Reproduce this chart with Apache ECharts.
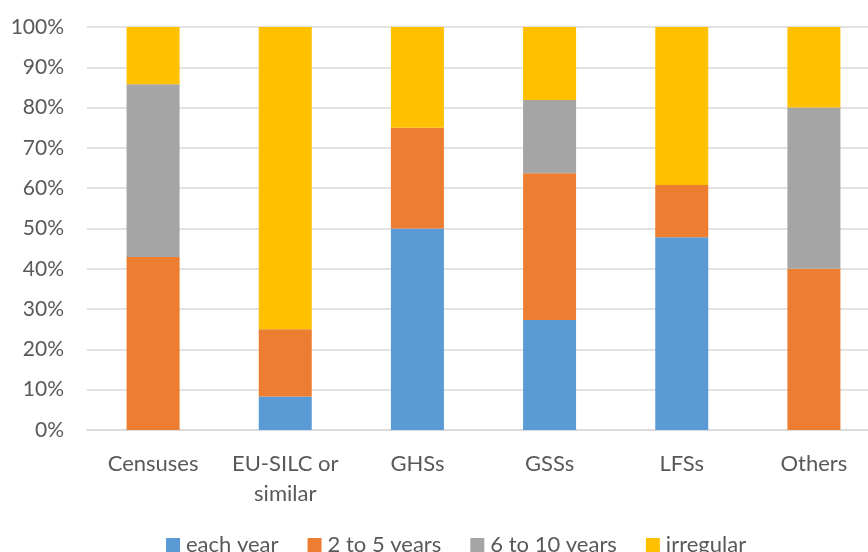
<!DOCTYPE html>
<html>
<head>
<meta charset="utf-8">
<script src="https://cdn.jsdelivr.net/npm/echarts@6/dist/echarts.min.js"></script>
<style>
  html, body { margin: 0; padding: 0; background: #fff; }
  #main { width: 868px; height: 552px; }
</style>
</head>
<body>
<div id="main"></div>
<script>
  const categories = ['Censuses', 'EU-SILC or\nsimilar', 'GHSs', 'GSSs', 'LFSs', 'Others'];
  const eachYear = [0, 8.3, 50, 27.3, 47.8, 0];
  const twoToFive = [42.9, 16.7, 25, 36.4, 13.0, 40];
  const sixToTen = [42.9, 0, 0, 18.2, 0, 40];
  const irregular = [14.3, 75, 25, 18.1, 39.2, 20];
  const yTicks = [0, 10, 20, 30, 40, 50, 60, 70, 80, 90, 100];

  const font = 'Lato, "Open Sans", sans-serif';
  const txt = '#595959';

  function bar(name, data, color) {
    return {
      name: name,
      type: 'bar',
      stack: 'all',
      barWidth: 53,
      data: data,
      itemStyle: { color: color },
      emphasis: { disabled: true }
    };
  }

  let chart = echarts.init(document.getElementById('main'));
  chart.setOption({
    animation: false,
    textStyle: { fontFamily: font },
    grid: { left: 87, right: -12, top: 27, bottom: 122, containLabel: false, outerBoundsMode: 'none' },
    legend: {
      bottom: -9,
      left: 161,
      itemWidth: 14,
      itemHeight: 14,
      itemGap: 29,
      icon: 'rect',
      textStyle: { color: txt, fontSize: 22, fontFamily: font, padding: [0, 0, 0, 1] },
      data: ['each year', '2 to 5 years', '6 to 10 years', 'irregular']
    },
    xAxis: {
      type: 'category',
      data: categories,
      axisLine: { lineStyle: { color: '#D9D9D9', width: 1.5 } },
      axisTick: { show: false },
      axisLabel: { interval: 0, color: txt, fontSize: 22, margin: 19, lineHeight: 30, fontFamily: font }
    },
    yAxis: {
      type: 'value',
      min: 0,
      max: 100,
      interval: 10,
      axisLine: { show: false },
      axisTick: { show: false },
      splitLine: { lineStyle: { color: '#D9D9D9', width: 1.5 } },
      axisLabel: {
        color: txt, fontSize: 21, margin: 23, fontFamily: font,
        formatter: v => yTicks.includes(v) ? v + '%' : ''
      }
    },
    series: [
      bar('each year', eachYear, '#5B9BD5'),
      bar('2 to 5 years', twoToFive, '#ED7D31'),
      bar('6 to 10 years', sixToTen, '#A5A5A5'),
      bar('irregular', irregular, '#FFC000')
    ]
  });
</script>
</body>
</html>
